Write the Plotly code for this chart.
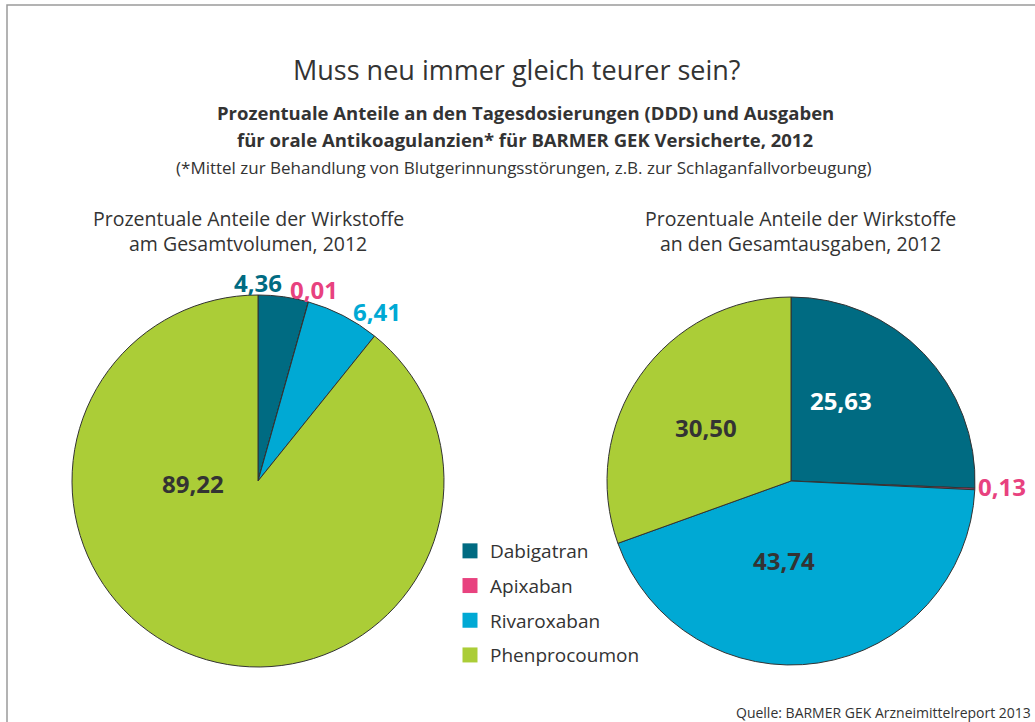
import plotly.graph_objects as go

W, H = 1035, 722

substances = ["Dabigatran", "Apixaban", "Rivaroxaban", "Phenprocoumon"]
volume_share = [4.36, 0.01, 6.41, 89.22]
spend_share = [25.63, 0.13, 43.74, 30.50]
colors = ["#006b82", "#e8427f", "#00a9d4", "#abcd37"]

title = "Muss neu immer gleich teurer sein?"
subtitle1 = "Prozentuale Anteile an den Tagesdosierungen (DDD) und Ausgaben"
subtitle2 = "für orale Antikoagulanzien* für BARMER GEK Versicherte, 2012"
footnote = "(*Mittel zur Behandlung von Blutgerinnungsstörungen, z.B. zur Schlaganfallvorbeugung)"
left_title = ["Prozentuale Anteile der Wirkstoffe", "am Gesamtvolumen, 2012"]
right_title = ["Prozentuale Anteile der Wirkstoffe", "an den Gesamtausgaben, 2012"]
source = "Quelle: BARMER GEK Arzneimittelreport 2013"

FONT = "Open Sans"
TXT = "#333333"


def fmt(v):
    return f"{v:.2f}".replace(".", ",")


def px(x):
    return x / W


def py(y):
    return 1 - y / H


fig = go.Figure()

# left pie: center (258,481), r 186
fig.add_trace(go.Pie(
    labels=substances, values=volume_share, sort=False, direction="clockwise",
    rotation=0, marker=dict(colors=colors, line=dict(color="#333333", width=1)),
    textinfo="none", hoverinfo="label+value", showlegend=False,
    domain=dict(x=[px(72), px(444)], y=[py(667), py(295)]),
))
# right pie: center (791,481), r 184
fig.add_trace(go.Pie(
    labels=substances, values=spend_share, sort=False, direction="clockwise",
    rotation=0, marker=dict(colors=colors, line=dict(color="#333333", width=1)),
    textinfo="none", hoverinfo="label+value", showlegend=False,
    domain=dict(x=[px(607), px(975)], y=[py(665), py(297)]),
))

# legend entries
for i, (name, c) in enumerate(zip(substances, colors)):
    fig.add_trace(go.Scatter(
        x=[None], y=[None], mode="markers", name=name,
        marker=dict(symbol="square", size=15, color=c),
        legendgroup=f"g{i}", showlegend=True,
    ))

ann = []


def text(x, y, s, size, bold=False, color=TXT, xanchor="center"):
    ann.append(dict(
        x=px(x), y=py(y), xref="paper", yref="paper", text=f"<b>{s}</b>" if bold else s,
        showarrow=False, xanchor=xanchor, yanchor="middle",
        font=dict(family=FONT, size=size, color=color),
    ))


text(517, 70, title, 27)
text(525, 113, subtitle1, 18.5, bold=True)
text(525, 139, subtitle2, 18.5, bold=True)
text(524, 167, footnote, 17)
text(248, 218, left_title[0], 19.5)
text(248, 243, left_title[1], 19.5)
text(800, 218, right_title[0], 19.5)
text(800, 243, right_title[1], 19.5)

# left pie value labels
left_pos = [(258, 283, colors[0]), (314, 290, colors[1]), (377, 311, colors[2]), (193, 483, TXT)]
for v, (x, y, c) in zip(volume_share, left_pos):
    text(x, y, fmt(v), 24, bold=True, color=c)

# right pie value labels
right_pos = [(841, 400, "#ffffff"), (1002, 486, colors[1]), (784, 560, TXT), (706, 427, TXT)]
for v, (x, y, c) in zip(spend_share, right_pos):
    text(x, y, fmt(v), 24, bold=True, color=c)

text(1033, 712, source, 14, xanchor="right")

fig.update_layout(
    width=W, height=H,
    margin=dict(l=0, r=0, t=0, b=0),
    paper_bgcolor="white", plot_bgcolor="white",
    xaxis=dict(visible=False), yaxis=dict(visible=False),
    annotations=ann,
    showlegend=True,
    legend=dict(
        x=px(450), y=py(532), xanchor="left", yanchor="top",
        font=dict(family=FONT, size=19, color=TXT),
        tracegroupgap=7, itemsizing="trace", bgcolor="rgba(0,0,0,0)",
    ),
    shapes=[dict(
        type="rect", xref="paper", yref="paper",
        x0=px(7), x1=1.02, y0=-0.02, y1=py(5),
        line=dict(color="#9a9a9a", width=1.5), fillcolor="rgba(0,0,0,0)", layer="below",
    )],
)

fig.write_html("out.html", config={"displayModeBar": False},
               post_script="document.body.style.margin='0px';")
